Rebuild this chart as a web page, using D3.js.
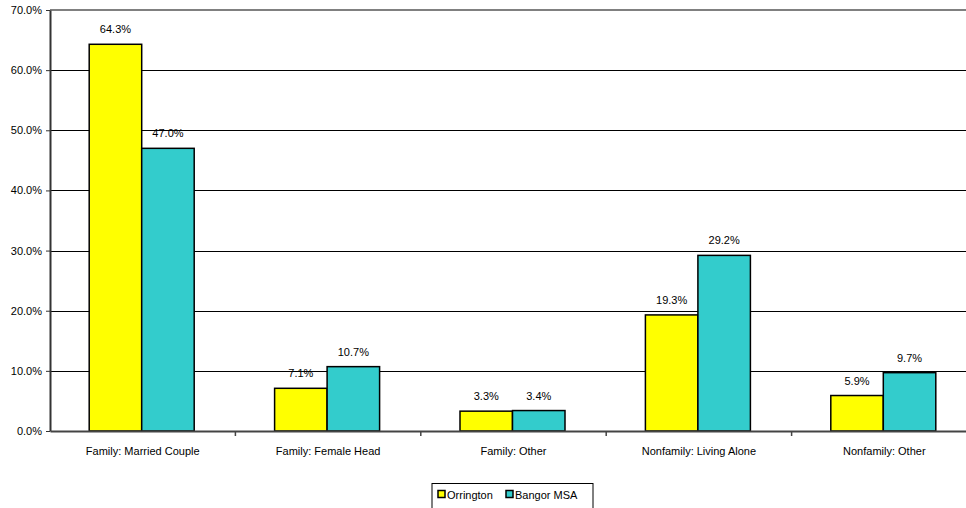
<!DOCTYPE html>
<html>
<head>
<meta charset="utf-8">
<script src="https://cdn.jsdelivr.net/npm/d3@7"></script>
<style>
  html, body { margin: 0; padding: 0; background: #fff; }
  svg { display: block; }
  text { font-family: Arial, "Liberation Sans", sans-serif; fill: #000; }
</style>
</head>
<body>
<svg id="chart" width="966" height="508"></svg>
<script>
// Household types: share of households by type
const categories = [
  "Family: Married Couple",
  "Family: Female Head",
  "Family: Other",
  "Nonfamily: Living Alone",
  "Nonfamily: Other"
];
const seriesNames = ["Orrington", "Bangor MSA"];
const orrington = [64.3, 7.1, 3.3, 19.3, 5.9];
const bangorMSA = [47.0, 10.7, 3.4, 29.2, 9.7];
const yTicks = [0, 10, 20, 30, 40, 50, 60, 70];
const colors = ["#FFFF00", "#33CCCC"];

const svg = d3.select("#chart");
const plotLeft = 50, plotRight = 977, plotTop = 10, plotBottom = 431;

const x = d3.scaleBand().domain(categories).range([plotLeft, plotRight]).paddingInner(0).paddingOuter(0);
const y = d3.scaleLinear().domain([0, 70]).range([plotBottom, plotTop]);
const barW = 52.5;
const xs = d3.scaleBand().domain(seriesNames).range([0, barW * 2]);

// horizontal gridlines
svg.append("g")
  .selectAll("line")
  .data(yTicks.filter(d => d > 0 && d < 70))
  .join("line")
  .attr("x1", plotLeft).attr("x2", plotRight)
  .attr("y1", d => Math.round(y(d)) + 0.5).attr("y2", d => Math.round(y(d)) + 0.5)
  .attr("stroke", "#000").attr("stroke-width", 1);

// top border of plot area
svg.append("line")
  .attr("x1", plotLeft).attr("x2", plotRight)
  .attr("y1", y(70)).attr("y2", y(70))
  .attr("stroke", "#808080").attr("stroke-width", 2);

// bars
const rows = categories.map((c, i) => ({ cat: c, vals: [orrington[i], bangorMSA[i]] }));
const groups = svg.append("g").selectAll("g")
  .data(rows)
  .join("g")
  .attr("transform", d => `translate(${x(d.cat) + x.bandwidth() / 2 - barW - 1},0)`);

groups.selectAll("rect")
  .data(d => d.vals.map((v, j) => ({ v, s: seriesNames[j], j })))
  .join("rect")
  .attr("x", d => xs(d.s))
  .attr("y", d => y(d.v))
  .attr("width", xs.bandwidth())
  .attr("height", d => y(0) - y(d.v))
  .attr("fill", d => colors[d.j])
  .attr("stroke", "#000")
  .attr("stroke-width", 1.5);

groups.selectAll("text")
  .data(d => d.vals.map((v, j) => ({ v, s: seriesNames[j] })))
  .join("text")
  .attr("x", d => xs(d.s) + xs.bandwidth() / 2)
  .attr("y", d => y(d.v) - 11)
  .attr("text-anchor", "middle")
  .attr("font-size", 11)
  .text(d => d.v.toFixed(1) + "%");

// y axis
const yAxis = d3.axisLeft(y).tickValues(yTicks).tickSize(4).tickSizeOuter(0)
  .tickFormat(d => d.toFixed(1) + "%");
const gy = svg.append("g").attr("transform", `translate(${plotLeft},0)`).call(yAxis);
gy.select(".domain").attr("stroke", "#333").attr("stroke-width", 2);
gy.selectAll(".tick line").attr("stroke", "#333");
gy.selectAll(".tick text").attr("font-size", 11).attr("x", -8)
  .attr("font-family", "Arial, 'Liberation Sans', sans-serif").attr("fill", "#000");

// x axis
const xAxis = d3.axisBottom(x).tickSize(0).tickSizeOuter(0);
const gx = svg.append("g").attr("transform", `translate(0,${plotBottom})`).call(xAxis);
gx.select(".domain").attr("stroke", "#444").attr("stroke-width", 2);
gx.selectAll(".tick text").attr("font-size", 11).attr("dy", "0").attr("y", 24)
  .attr("font-family", "Arial, 'Liberation Sans', sans-serif").attr("fill", "#000");
// category separators
svg.append("g").selectAll("line")
  .data(categories.slice(1))
  .join("line")
  .attr("x1", d => x(d)).attr("x2", d => x(d))
  .attr("y1", plotBottom).attr("y2", plotBottom + 5)
  .attr("stroke", "#444").attr("stroke-width", 1.5);

// legend
const lg = svg.append("g").attr("transform", "translate(432,483.5)");
lg.append("rect").attr("width", 161).attr("height", 26)
  .attr("fill", "#fff").attr("stroke", "#000").attr("stroke-width", 1);
const items = [{ name: seriesNames[0], x: 6 }, { name: seriesNames[1], x: 74 }];
items.forEach((it, j) => {
  lg.append("rect").attr("x", it.x).attr("y", 7).attr("width", 7).attr("height", 7)
    .attr("fill", colors[j]).attr("stroke", "#000").attr("stroke-width", 1.5);
  lg.append("text").attr("x", it.x + 9).attr("y", 15).attr("font-size", 11).text(it.name);
});
</script>
</body>
</html>
